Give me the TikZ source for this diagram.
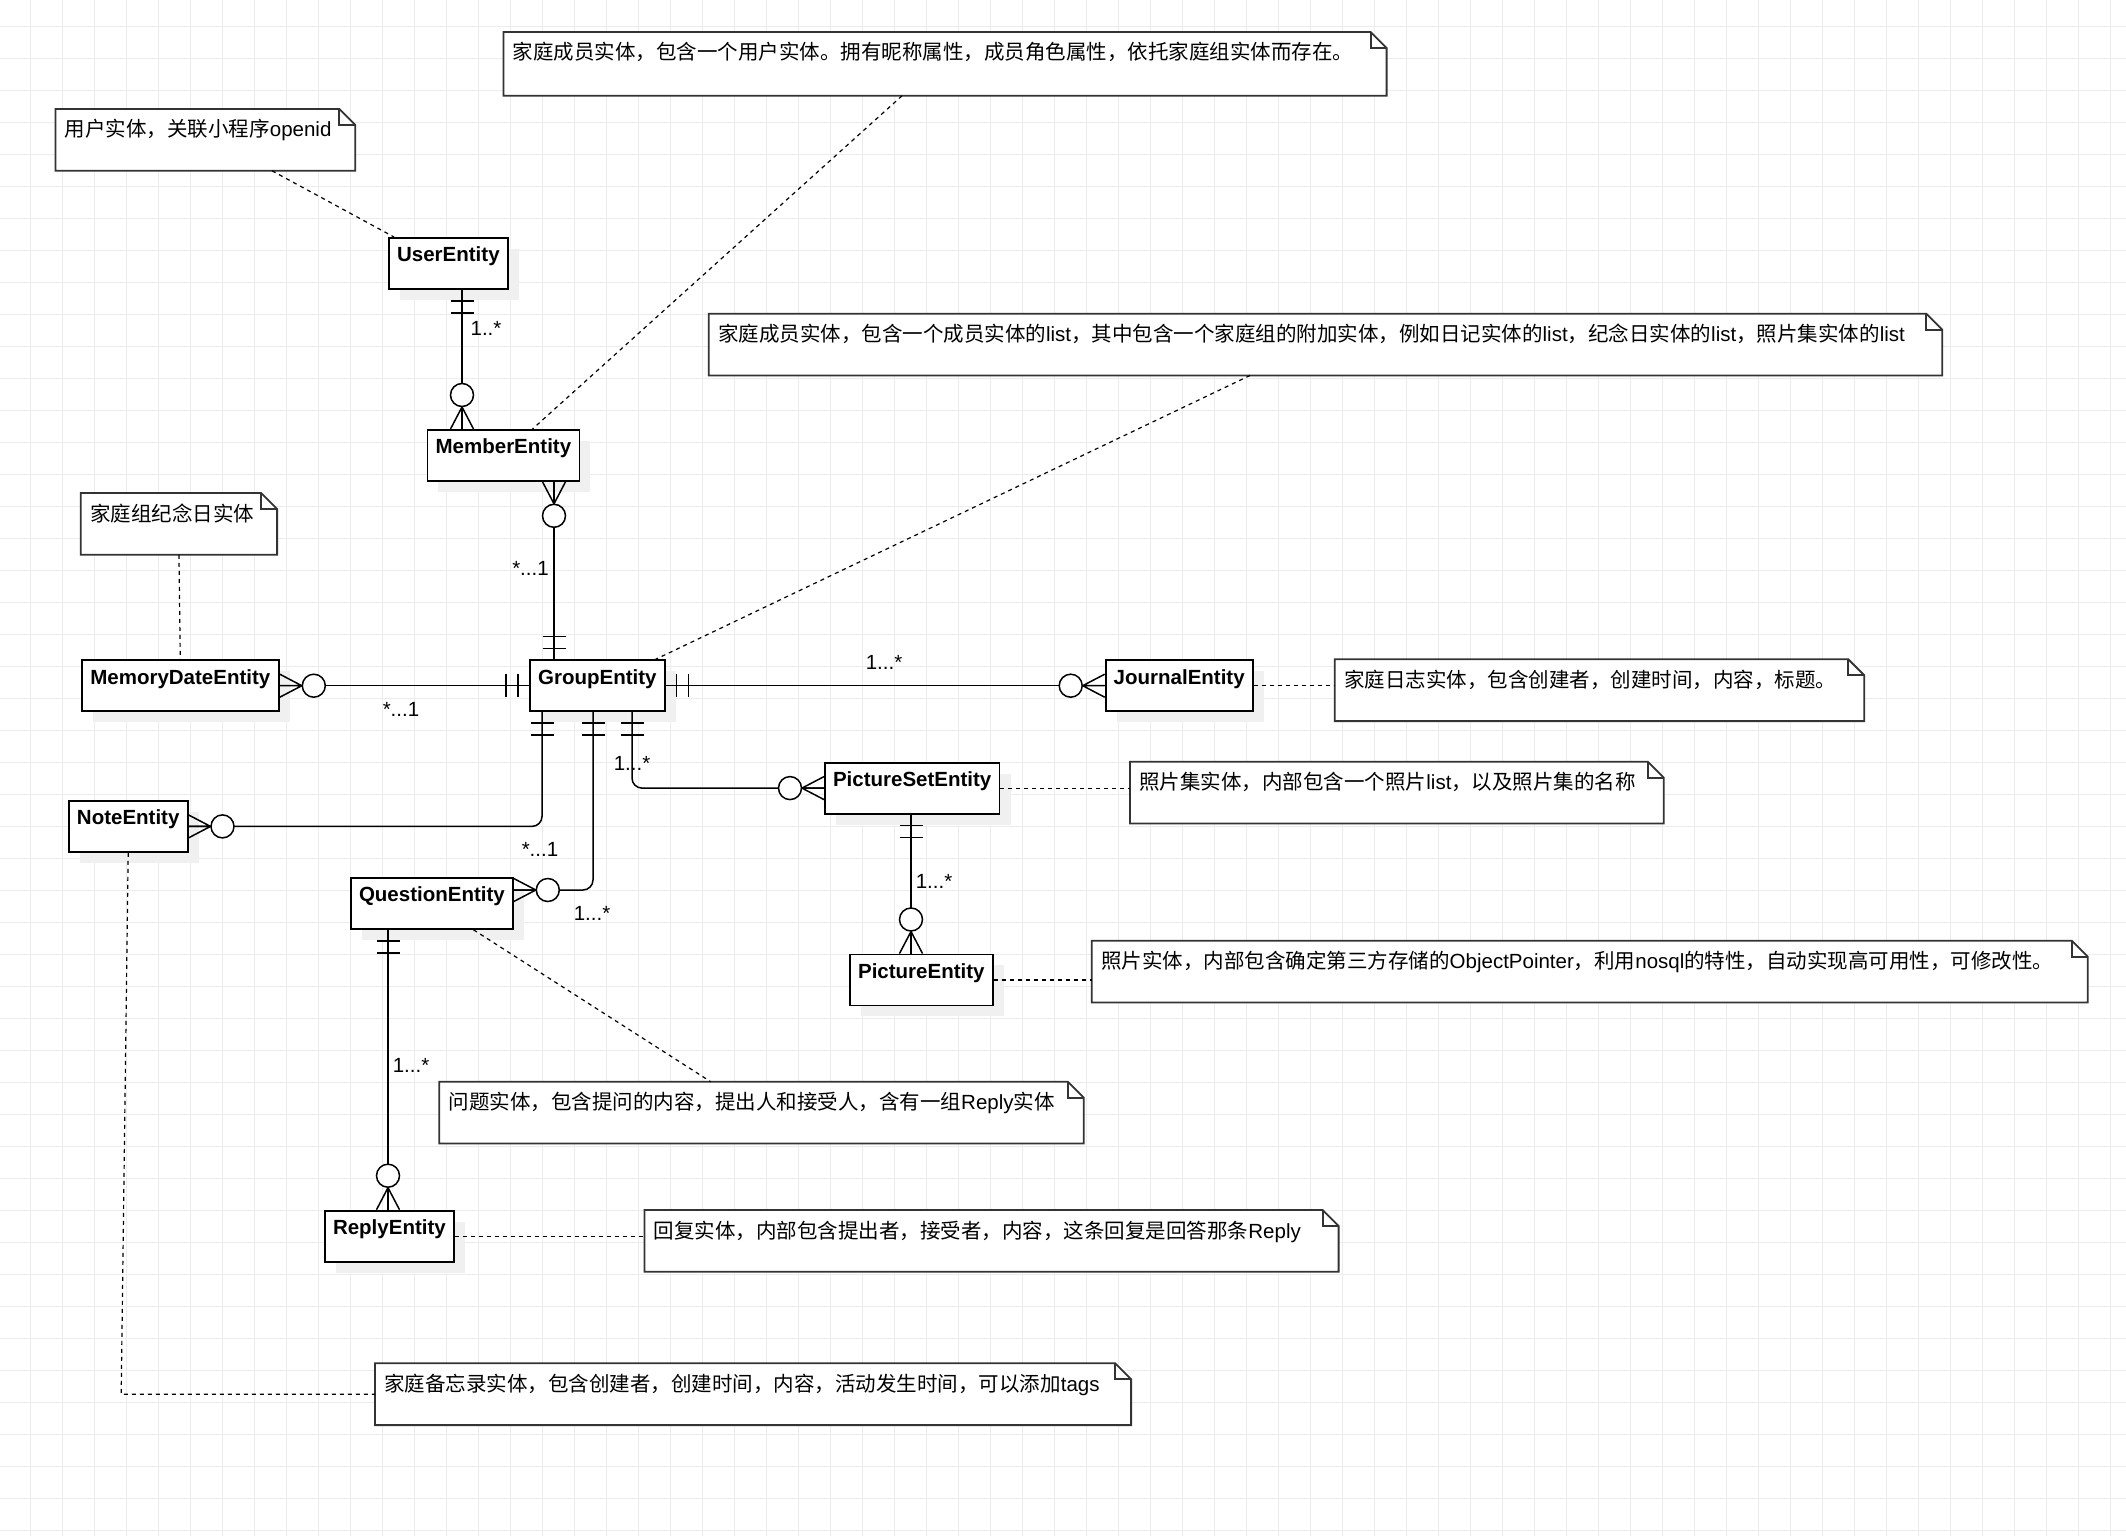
\documentclass[tikz,border=0pt]{standalone}
\usepackage{fontspec}
\setmainfont{Liberation Sans}
\newfontfamily\cjk{Noto Sans CJK SC}
\newcommand{\zh}[1]{{\cjk #1}}
\usepackage{tikz}
\usetikzlibrary{shadows}
\pgfdeclarelayer{background}
\pgfsetlayers{background,main}

\definecolor{gridgray}{RGB}{236,236,236}
\definecolor{notegray}{RGB}{51,51,51}
\definecolor{shadowgray}{RGB}{240,240,240}

\tikzset{
  entity/.style={draw, fill=white, line width=0.9pt, anchor=north west,
    inner xsep=0pt, inner ysep=0pt, minimum height=25.5pt,
    text height=12pt, text depth=13.5pt,
    font=\fontsize{10.25pt}{12pt}\selectfont\bfseries,
    general shadow={fill=shadowgray, shadow xshift=5.5pt, shadow yshift=-5.5pt}},
  note/.style={anchor=north west, inner xsep=4.5pt, inner ysep=0pt, align=left,
    text height=13.8pt, text depth=16.7pt},
  noteline/.style={draw=notegray, line width=0.9pt},
  gridline/.style={draw=gridgray, line width=0.5pt},
  erline/.style={line width=0.75pt},
  link/.style={line width=0.6pt, dash pattern=on 2pt off 2pt},
  mult/.style={inner sep=0pt},
  one end/.pic={\draw[erline] (11,-11.5) -- (11,11.5) (23,-11.5) -- (23,11.5);},
  many end/.pic={\draw[erline] (0,-11.5) -- (22,0) -- (0,11.5) (0,0) -- (22,0);
    \draw[erline, fill=white] (34,0) circle[radius=5.75pt];}
}

\begin{document}
\begin{tikzpicture}[x=0.5pt, y=-0.5pt, font=\fontsize{10.25pt}{12pt}\selectfont]
    \useasboundingbox (0,0) rectangle (2126,1536);

    % 1. 实体
    \node[entity, minimum width=59.5pt] (user) at (388,237) {UserEntity};
    \node[entity, minimum width=76pt] (member) at (426.5,429) {MemberEntity};
    \node[entity, minimum width=98.6pt] (memory) at (80.8,659.3) {MemoryDateEntity};
    \node[entity, minimum width=67.4pt] (group) at (529,659.3) {GroupEntity};
    \node[entity, minimum width=73.6pt] (journal) at (1104.7,659.3) {JournalEntity};
    \node[entity, minimum width=59.4pt] (noteent) at (67.9,800) {NoteEntity};
    \node[entity, minimum width=87.3pt] (pictureset) at (824,761.7) {PictureSetEntity};
    \node[entity, minimum width=81pt] (question) at (350,877) {QuestionEntity};
    \node[entity, minimum width=71.4pt] (picture) at (849,953.5) {PictureEntity};
    \node[entity, minimum width=64.5pt] (reply) at (324,1209.7) {ReplyEntity};

    % 2. 注释
    \node[note, text width=140.5pt] (nuser) at (55.5,109) {\zh{用户实体，关联小程序}openid};
    \node[note, text width=432.15pt, text depth=17.7pt] (nmember) at (503.5,32)
      {\zh{家庭成员实体，包含一个用户实体。拥有昵称属性，成员角色属性，依托家庭组实体而存在。}};
    \node[note, text width=607.4pt] (ngroup) at (708.7,313.7)
      {\zh{家庭成员实体，包含一个成员实体的}list\zh{，其中包含一个家庭组的附加实体，例如日记实体的}list\zh{，纪念日实体的}list\zh{，照片集实体的}list};
    \node[note, text width=88.75pt] (nmemory) at (80.8,493) {\zh{家庭组纪念日实体}};
    \node[note, text width=255.35pt] (njournal) at (1334.8,659.3)
      {\zh{家庭日志实体，包含创建者，创建时间，内容，标题。}};
    \node[note, text width=257.5pt] (nps) at (1130,761.7)
      {\zh{照片集实体，内部包含一个照片}list\zh{，以及照片集的名称}};
    \node[note, text width=488.6pt] (npic) at (1091.8,940.7)
      {\zh{照片实体，内部包含确定第三方存储的}ObjectPointer\zh{，利用}nosql\zh{的特性，自动实现高可用性，可修改性。}};
    \node[note, text width=312.85pt] (nquestion) at (439.3,1081.7)
      {\zh{问题实体，包含提问的内容，提出人和接受人，含有一组}Reply\zh{实体}};
    \node[note, text width=337.65pt] (nreply) at (644.5,1210)
      {\zh{回复实体，内部包含提出者，接受者，内容，这条回复是回答那条}Reply};
    \node[note, text width=368.65pt] (nmemo) at (375,1363.3)
      {\zh{家庭备忘录实体，包含创建者，创建时间，内容，活动发生时间，可以添加}tags};

    % 3. 背景网格与注释外框
    \begin{pgfonlayer}{background}
      \fill[white] (0,0) rectangle (2126,1536);
      \foreach \gx in {0,...,65}
        \draw[gridline] ({30.7+32*\gx},0) -- ({30.7+32*\gx},1536);
      \foreach \gy in {0,...,47}
        \draw[gridline] (0,{26.5+32*\gy}) -- (2126,{26.5+32*\gy});
      \foreach \n in {nuser,nmember,ngroup,nmemory,njournal,nps,npic,nquestion,nreply,nmemo} {
        \draw[noteline, fill=white] (\n.north west) -- ([xshift=-8pt]\n.north east)
          -- ([yshift=-8pt]\n.north east) -- (\n.south east) -- (\n.south west) -- cycle;
        \draw[noteline] ([xshift=-8pt]\n.north east) |- ([yshift=-8pt]\n.north east);
      }
    \end{pgfonlayer}

    % 4. 关系连线
    \draw[erline] ([xshift=37pt]user.south west) -- ([xshift=17.75pt]member.north west);
    \pic[rotate=-90] at ([xshift=37pt]user.south west) {one end};
    \pic[rotate=90] at ([xshift=17.75pt]member.north west) {many end};

    \draw[erline] ([xshift=63.75pt]member.south west) -- ([xshift=12.5pt]group.north west);
    \pic[rotate=-90] at ([xshift=63.75pt]member.south west) {many end};
    \pic[rotate=90] at ([xshift=12.5pt]group.north west) {one end};

    \draw[erline] (memory.east) -- (group.west);
    \pic at (memory.east) {many end};
    \pic[rotate=180] at (group.west) {one end};

    \draw[erline] (group.east) -- (journal.west);
    \pic at (group.east) {one end};
    \pic[rotate=180] at (journal.west) {many end};

    \draw[erline, rounded corners=5pt] ([xshift=6.5pt]group.south west) |- (noteent.east);
    \pic[rotate=-90] at ([xshift=6.5pt]group.south west) {one end};
    \pic at (noteent.east) {many end};

    \draw[erline, rounded corners=5pt] ([xshift=32pt]group.south west) |- ([yshift=-6.5pt]question.north east);
    \pic[rotate=-90] at ([xshift=32pt]group.south west) {one end};
    \pic at ([yshift=-6.5pt]question.north east) {many end};

    \draw[erline, rounded corners=5pt] ([xshift=51.5pt]group.south west) |- (pictureset.west);
    \pic[rotate=-90] at ([xshift=51.5pt]group.south west) {one end};
    \pic[rotate=180] at (pictureset.west) {many end};

    \draw[erline] ([xshift=43.5pt]pictureset.south west) -- ([xshift=31pt]picture.north west);
    \pic[rotate=-90] at ([xshift=43.5pt]pictureset.south west) {one end};
    \pic[rotate=90] at ([xshift=31pt]picture.north west) {many end};

    \draw[erline] ([xshift=19pt]question.south west) -- ([xshift=32pt]reply.north west);
    \pic[rotate=-90] at ([xshift=19pt]question.south west) {one end};
    \pic[rotate=90] at ([xshift=32pt]reply.north west) {many end};

    % 5. 多重性
    \node[mult] (m1) at (486,328) {1..*};
    \node[mult] (m2) at (530.5,568) {*...1};
    \node[mult] (m3) at (401,709) {*...1};
    \node[mult] (m4) at (884,662) {1...*};
    \node[mult] (m5) at (632,763.5) {1...*};
    \node[mult] (m6) at (540,849) {*...1};
    \node[mult] (m7) at (592,913) {1...*};
    \node[mult] (m8) at (934,881) {1...*};
    \node[mult] (m9) at (411,1065) {1...*};

    % 6. 注释虚线
    \draw[link] ([xshift=108.25pt]nuser.south west) -- ([xshift=3pt]user.north west);
    \draw[link] ([xshift=199.25pt]nmember.south west) -- ([xshift=53pt]member.north west);
    \draw[link] ([xshift=270.65pt]ngroup.south west) -- ([xshift=-5pt]group.north east);
    \draw[link] (nmemory.south) -- (memory.north);
    \draw[link] (journal.east) -- (journal.east -| njournal.west);
    \draw[link] (pictureset.east) -- (pictureset.east -| nps.west);
    \draw[link] (picture.east) -- (picture.east -| npic.west);
    \draw[link] ([xshift=61.75pt]question.south west) -- ([xshift=135.7pt]nquestion.north west);
    \draw[link] (reply.east) -- (reply.east -| nreply.west);
    \draw[link] (noteent.south) -- ([xshift=-3.5pt]noteent.south |- nmemo.west) -- (nmemo.west);

\end{tikzpicture}
\end{document}
